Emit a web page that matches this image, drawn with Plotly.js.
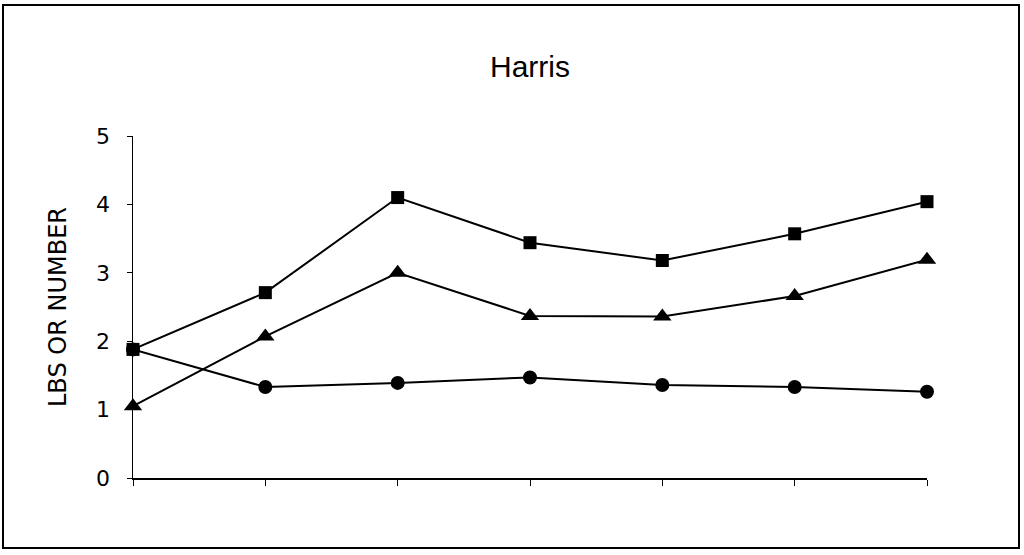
<!DOCTYPE html>
<html>
<head>
<meta charset="utf-8">
<script src="https://cdn.plot.ly/plotly-3.0.1.min.js"></script>
<style>html,body{margin:0;padding:0;background:#fff;}#chart{width:1024px;height:555px;}</style>
</head>
<body>
<div id="chart"></div>
<script>
var categories = [1, 2, 3, 4, 5, 6, 7];
var squareSeries = [1.88, 2.71, 4.10, 3.44, 3.18, 3.57, 4.04];
var triangleSeries = [1.05, 2.07, 3.00, 2.37, 2.36, 2.66, 3.19];
var circleSeries = [1.88, 1.33, 1.39, 1.47, 1.36, 1.33, 1.26];
var yTicks = [0, 1, 2, 3, 4, 5];

function trace(y, symbol, size) {
  return {
    x: categories, y: y, type: 'scatter', mode: 'lines+markers',
    line: {color: '#000', width: 2},
    marker: {symbol: symbol, size: size, color: '#000'},
    showlegend: false, cliponaxis: false
  };
}

var data = [
  trace(circleSeries, 'circle', 14),
  trace(triangleSeries, 'triangle-up', 16),
  trace(squareSeries, 'square', 13)
];

var layout = {
  width: 1024, height: 555,
  paper_bgcolor: '#fff', plot_bgcolor: '#fff',
  margin: {l: 133, r: 97, t: 136, b: 77},
  font: {family: 'Liberation Sans, Arial, sans-serif', color: '#000', size: 20},
  title: {text: 'Harris', x: 0.5, xref: 'paper', y: 1 - 66/555, yanchor: 'middle', font: {size: 30, color: '#000'}},
  xaxis: {
    range: [1, 7], tickvals: categories, ticktext: categories.map(function(){return '';}),
    showgrid: false, zeroline: false, showline: true, linecolor: '#000', linewidth: 1.5,
    ticks: 'outside', ticklen: 6, tickcolor: '#000', tickwidth: 1
  },
  yaxis: {
    range: [0, 5], tickvals: yTicks, ticktext: yTicks.map(String),
    showgrid: false, zeroline: false, showline: true, linecolor: '#000', linewidth: 1.5,
    ticks: 'outside', ticklen: 5, tickcolor: '#000', tickwidth: 1,
    ticklabelstandoff: 12,
    tickfont: {size: 22, family: 'DejaVu Sans, sans-serif'},
    title: {text: 'LBS OR NUMBER', standoff: 22, font: {size: 24, family: 'DejaVu Sans, sans-serif'}}
  },
  shapes: [{
    type: 'rect', xref: 'paper', yref: 'paper',
    x0: (3 - 133) / 794, x1: (1019 - 133) / 794,
    y0: (478 - 548) / 342, y1: (478 - 5) / 342,
    line: {color: '#000', width: 2}, fillcolor: 'rgba(0,0,0,0)', layer: 'below'
  }]
};

Plotly.newPlot('chart', data, layout, {displayModeBar: false, staticPlot: true});
</script>
</body>
</html>
